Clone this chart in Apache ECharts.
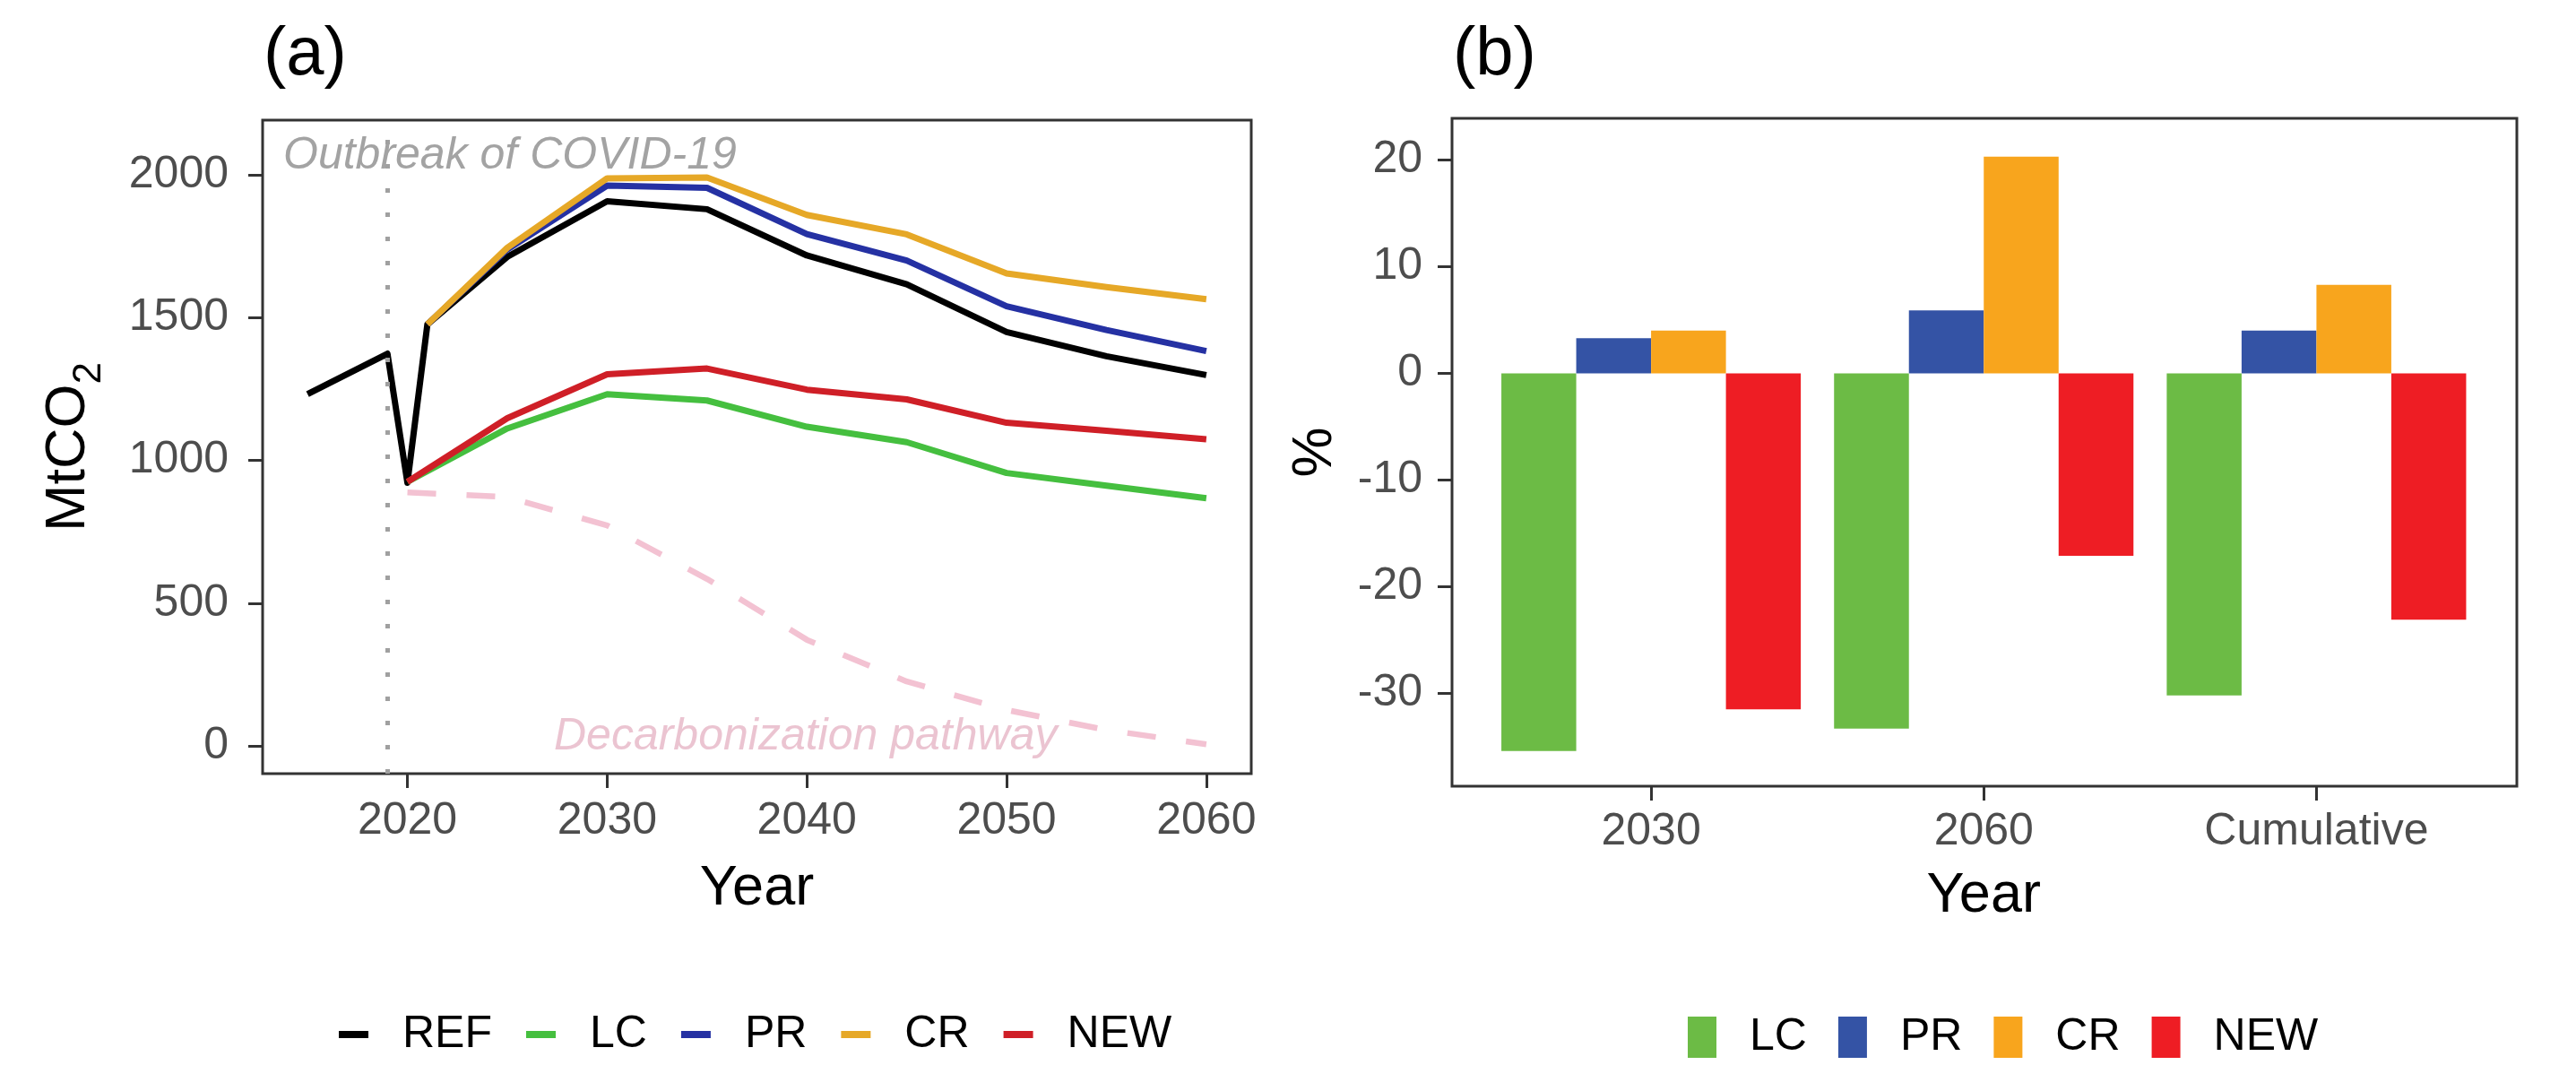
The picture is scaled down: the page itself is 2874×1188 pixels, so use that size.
<!DOCTYPE html>
<html>
<head>
<meta charset="utf-8">
<script src="https://cdn.jsdelivr.net/npm/echarts@6/dist/echarts.min.js"></script>
<style>
html,body{margin:0;padding:0;background:#fff;}
#chart{width:2874px;height:1188px;}
</style>
</head>
<body>
<div id="chart"></div>
<script>
// ---------- Panel (a) data ----------
const refYears = [2015, 2019, 2020, 2021, 2025, 2030, 2035, 2040, 2045, 2050, 2055, 2060];
const refValues = [1232, 1374, 922, 1477, 1713, 1908, 1880, 1718, 1617, 1450, 1365, 1299];
const prcrYears = [2021, 2025, 2030, 2035, 2040, 2045, 2050, 2055, 2060];
const prValues = [1477, 1739, 1963, 1955, 1793, 1700, 1540, 1457, 1383];
const crValues = [1477, 1745, 1988, 1991, 1860, 1792, 1655, 1607, 1565];
const scenYears = [2020, 2025, 2030, 2035, 2040, 2045, 2050, 2055, 2060];
const lcValues = [925, 1112, 1232, 1210, 1118, 1064, 956, 912, 868];
const newValues = [925, 1148, 1302, 1322, 1248, 1214, 1132, 1104, 1074];
const decarbValues = [888, 872, 772, 585, 372, 226, 126, 56, 6];
const xTicksA = [2020, 2030, 2040, 2050, 2060];
const yTicksA = [0, 500, 1000, 1500, 2000];
const covidYear = 2019;

// ---------- Panel (b) data ----------
const barCategories = ['2030', '2060', 'Cumulative'];
const barLC = [-35.4, -33.3, -30.2];
const barPR = [3.3, 5.9, 4.0];
const barCR = [4.0, 20.3, 8.3];
const barNEW = [-31.5, -17.1, -23.1];
const yTicksB = [-30, -20, -10, 0, 10, 20];

const FONT = 'Liberation Sans, Arial, sans-serif';
const pairs = (xs, ys) => xs.map((x, i) => [x, ys[i]]);
const plain = v => String(v);

const lineColors = {REF: '#000000', LC: '#45BF3F', PR: '#2531A3', CR: '#E6A827', NEW: '#CF1F27'};
const barColors = {LC: '#6CBB45', PR: '#3453A5', CR: '#F8A51D', NEW: '#EE1D24'};

function lineSeries(name, xs, ys, extra) {
  return Object.assign({
    name: name, type: 'line', xAxisIndex: 0, yAxisIndex: 0,
    data: pairs(xs, ys), showSymbol: false, symbol: 'none',
    color: lineColors[name],
    itemStyle: {color: lineColors[name]},
    lineStyle: {color: lineColors[name], width: 7, cap: 'butt', join: 'round'},
    silent: true, z: 3
  }, extra || {});
}
function barSeries(name, vals) {
  return {
    name: name + '-bar', type: 'bar', xAxisIndex: 2, yAxisIndex: 2,
    data: vals, barGap: '0%', barCategoryGap: '10%',
    color: barColors[name], itemStyle: {color: barColors[name]}, silent: true
  };
}

const axisTickStyle = {lineStyle: {color: '#333333', width: 3}, length: 16};
const labelStyle = {fontFamily: FONT, fontSize: 50, color: '#4D4D4D'};
const nameStyle = {fontFamily: FONT, fontSize: 63, color: '#000000'};

const chart = echarts.init(document.getElementById('chart'), null, {renderer: 'canvas'});
chart.setOption({
  animation: false,
  backgroundColor: '#ffffff',
  grid: [
    {left: 293, top: 134, width: 1103, height: 729, show: true, borderColor: '#333333', borderWidth: 3, backgroundColor: 'transparent', z: 5},
    {left: 1620, top: 132, width: 1188, height: 745, show: true, borderColor: '#333333', borderWidth: 3, backgroundColor: 'transparent', z: 5},
    {left: 1656.5, top: 132, width: 1113.5, height: 745}
  ],
  xAxis: [
    {
      type: 'value', gridIndex: 0, min: 2012.75, max: 2062.25,
      axisLine: {show: false, onZero: false}, splitLine: {show: false},
      axisTick: Object.assign({show: true, customValues: xTicksA}, axisTickStyle),
      axisLabel: Object.assign({customValues: xTicksA, margin: 28, formatter: plain}, labelStyle),
      name: 'Year', nameLocation: 'middle', nameGap: 97, nameTextStyle: nameStyle
    },
    {type: 'value', gridIndex: 1, show: false, min: 0, max: 1},
    {
      type: 'category', gridIndex: 2, data: barCategories,
      axisLine: {show: false, onZero: false}, splitLine: {show: false},
      axisTick: Object.assign({show: true, alignWithLabel: true}, axisTickStyle),
      axisLabel: Object.assign({margin: 26}, labelStyle),
      name: 'Year', nameLocation: 'middle', nameGap: 91, nameTextStyle: nameStyle
    }
  ],
  yAxis: [
    {
      type: 'value', gridIndex: 0, min: -97, max: 2192,
      axisLine: {show: false, onZero: false}, splitLine: {show: false},
      axisTick: Object.assign({show: true, customValues: yTicksA}, axisTickStyle),
      axisLabel: Object.assign({customValues: yTicksA, margin: 38, formatter: plain}, labelStyle),
      name: '{m|MtCO}{s|2}', nameLocation: 'middle', nameGap: 185, nameRotate: 90,
      nameTextStyle: Object.assign({}, nameStyle, {
        rich: {
          m: {fontFamily: FONT, fontSize: 63, color: '#000'},
          s: {fontFamily: FONT, fontSize: 44, color: '#000', verticalAlign: 'bottom', padding: [0, 0, -14, 0]}
        }
      })
    },
    {type: 'value', gridIndex: 1, show: false, min: 0, max: 1},
    {
      type: 'value', gridIndex: 2, min: -38.7, max: 23.9, offset: 36.5,
      axisLine: {show: false, onZero: false}, splitLine: {show: false},
      axisTick: Object.assign({show: true, customValues: yTicksB}, axisTickStyle),
      axisLabel: Object.assign({customValues: yTicksB, margin: 33, formatter: plain}, labelStyle),
      name: '%', nameLocation: 'middle', nameGap: 121, nameRotate: 90, nameTextStyle: nameStyle
    }
  ],
  legend: [
    {
      data: ['REF', 'LC', 'PR', 'CR', 'NEW'],
      left: 378, top: 1129, orient: 'horizontal', padding: 0,
      icon: 'rect', itemWidth: 33, itemHeight: 8, itemGap: 38,
      itemStyle: {borderWidth: 0},
      textStyle: {fontFamily: FONT, fontSize: 50, color: '#000', padding: [0, 0, 0, 33]},
      selectedMode: false
    },
    {
      data: ['LC-bar', 'PR-bar', 'CR-bar', 'NEW-bar'],
      formatter: n => n.replace('-bar', ''),
      left: 1883, top: 1132, orient: 'horizontal', padding: 0,
      icon: 'rect', itemWidth: 32, itemHeight: 46, itemGap: 35,
      itemStyle: {borderWidth: 0},
      textStyle: {fontFamily: FONT, fontSize: 50, color: '#000', padding: [0, 0, 0, 32]},
      selectedMode: false
    }
  ],
  graphic: [
    {type: 'text', left: 294, top: 24, style: {text: '(a)', font: '76px ' + FONT, fill: '#000'}},
    {type: 'text', left: 1621, top: 24, style: {text: '(b)', font: '76px ' + FONT, fill: '#000'}},
    {type: 'text', left: 316, top: 149, z: 10, style: {text: 'Outbreak of COVID-19', font: 'italic 50px ' + FONT, fill: '#A3A3A3'}},
    {type: 'text', left: 618, top: 797, z: 10, style: {text: 'Decarbonization pathway', font: 'italic 50px ' + FONT, fill: '#EBC4D1'}}
  ],
  series: [
    {
      name: 'Decarbonization', type: 'line', xAxisIndex: 0, yAxisIndex: 0,
      data: pairs(scenYears, decarbValues), showSymbol: false, symbol: 'none', silent: true,
      lineStyle: {color: '#F3C2D2', width: 6.5, type: [32, 34], cap: 'butt'}, z: 2
    },
    lineSeries('REF', refYears, refValues, {
      markLine: {
        silent: true, symbol: 'none', label: {show: false},
        lineStyle: {color: '#A0A0A0', width: 5, type: [5, 22], cap: 'butt'},
        data: [{xAxis: covidYear}]
      }
    }),
    lineSeries('LC', scenYears, lcValues),
    lineSeries('PR', prcrYears, prValues),
    lineSeries('CR', prcrYears, crValues),
    lineSeries('NEW', scenYears, newValues),
    barSeries('LC', barLC),
    barSeries('PR', barPR),
    barSeries('CR', barCR),
    barSeries('NEW', barNEW)
  ]
});
</script>
</body>
</html>
